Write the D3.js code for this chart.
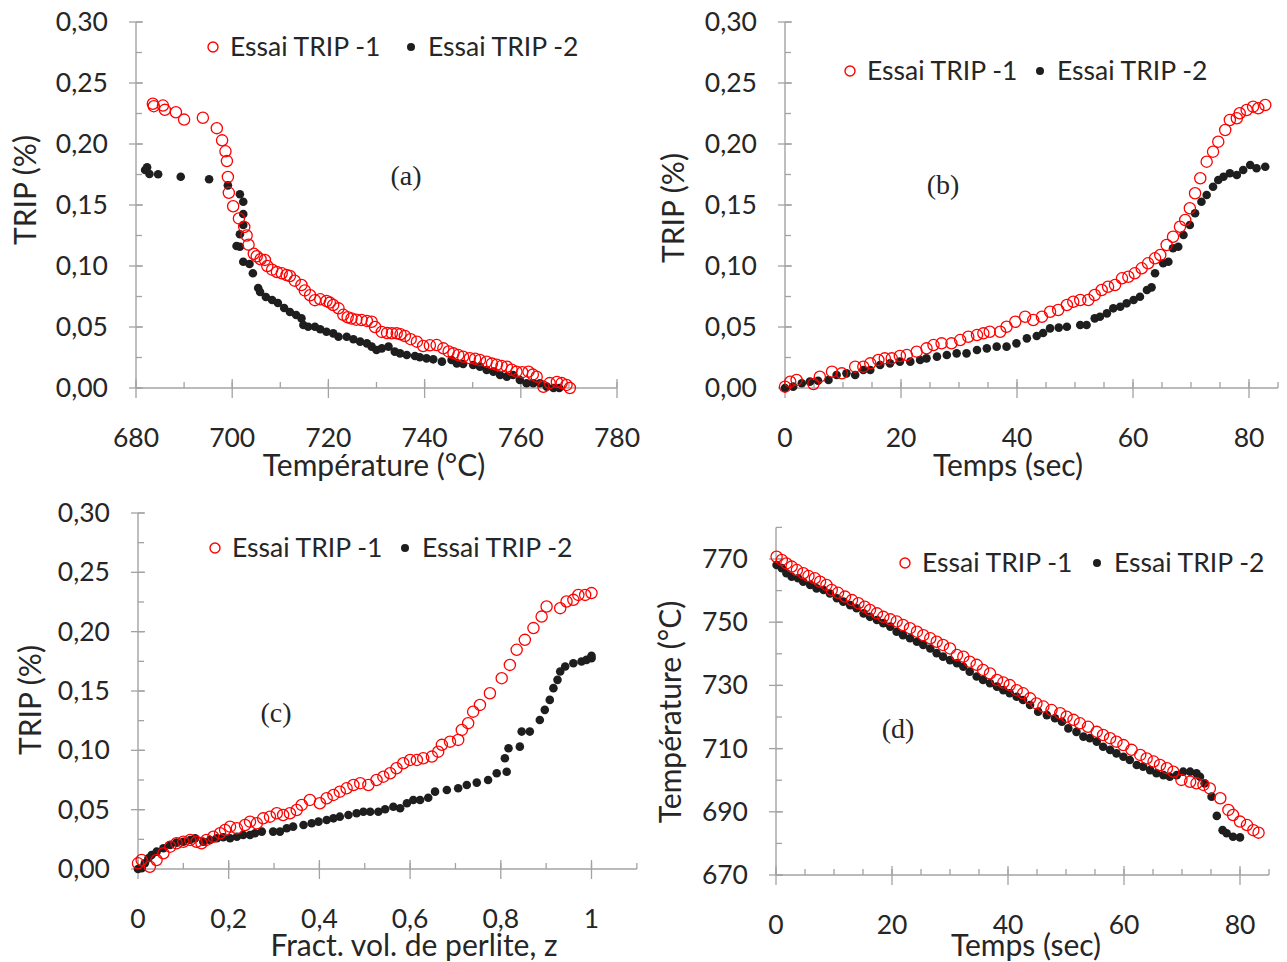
<!DOCTYPE html>
<html><head><meta charset="utf-8">
<script src="https://cdn.jsdelivr.net/npm/d3@7/dist/d3.min.js"></script>
<style>
body{margin:0;background:#fff}
text{font-family:Lato,"Open Sans",sans-serif;fill:#262626}
</style>
</head><body>
<svg id="chart" width="1287" height="962"></svg>
<script>
// ---------- DATA ----------
const seriesNames = ["Essai TRIP -1", "Essai TRIP -2"];

// Panel (a): TRIP (%) vs Température (°C)
const aTrip1 = [[683.5,0.233],[683.7,0.231],[685.6,0.2315],[686.0,0.228],[688.3,0.226],[690.0,0.220],[693.9,0.2215],[696.8,0.213],[697.9,0.203],[698.6,0.194],[698.9,0.186],[699.1,0.173],[699.3,0.160],[700.2,0.149],[701.4,0.139],[702.5,0.132],[703.0,0.125],[703.4,0.1175],[704.5,0.110],[705.1,0.108],[705.9,0.1055],[706.8,0.105],[707.3,0.100],[708.3,0.097],[709.3,0.095],[710.3,0.094],[711.3,0.0926],[712.0,0.0918],[713.0,0.088],[714.4,0.0844],[715.1,0.080],[716.2,0.076],[717.2,0.072],[718.3,0.0727],[719.6,0.0713],[720.3,0.070],[721.0,0.068],[722.1,0.0653],[723.1,0.060],[724.0,0.058],[724.8,0.057],[725.8,0.056],[726.9,0.0557],[728.0,0.055],[729.0,0.0543],[729.7,0.050],[731.1,0.046],[732.2,0.045],[733.2,0.0448],[734.2,0.0448],[735.0,0.044],[735.9,0.0426],[737.1,0.040],[738.4,0.038],[739.7,0.0344],[741.1,0.035],[742.5,0.0352],[743.9,0.0325],[745.0,0.030],[746.0,0.0284],[747.0,0.027],[748.0,0.0257],[749.4,0.0244],[750.5,0.024],[751.5,0.023],[752.9,0.0216],[754.0,0.020],[755.0,0.019],[756.0,0.018],[757.1,0.0175],[758.1,0.015],[759.1,0.0134],[760.3,0.013],[761.6,0.0134],[762.5,0.011],[763.3,0.0093],[764.7,0.001],[766.0,0.004],[767.5,0.005],[768.5,0.004],[769.5,0.0025],[770.2,0.0]];
const aTrip2 = [[681.9,0.1787],[682.3,0.1809],[682.8,0.1754],[684.6,0.1752],[689.3,0.1732],[695.2,0.1711],[699.1,0.1661],[701.6,0.1588],[702.3,0.1527],[702.3,0.1426],[702.3,0.1336],[701.6,0.126],[700.9,0.1164],[701.6,0.1158],[702.3,0.1035],[703.6,0.1016],[704.3,0.094],[705.4,0.082],[705.8,0.0787],[707.0,0.0746],[708.3,0.0721],[709.5,0.0697],[710.8,0.0656],[712.0,0.0623],[713.3,0.0598],[714.4,0.0571],[714.8,0.0516],[715.8,0.0502],[717.2,0.0502],[718.3,0.0481],[719.6,0.0461],[721.0,0.0448],[722.1,0.042],[723.8,0.042],[725.2,0.0399],[726.6,0.038],[728.0,0.0366],[729.0,0.0339],[730.0,0.0311],[731.1,0.0325],[732.5,0.0339],[733.8,0.0298],[734.9,0.0284],[736.3,0.027],[738.0,0.0262],[739.0,0.0252],[740.4,0.0243],[741.8,0.0235],[743.6,0.0216],[745.6,0.023],[746.7,0.0202],[748.0,0.0197],[750.1,0.0189],[751.5,0.0175],[752.9,0.0148],[754.3,0.0134],[755.7,0.0107],[757.1,0.0093],[758.4,0.0107],[759.8,0.0066],[761.2,0.0039],[762.6,0.0039],[764.0,0.0039],[765.4,0.0011],[766.8,0.0],[768.0,0.0]];

// Panel (b): TRIP (%) vs Temps (sec)
const bTrip1 = [[0,0.0011],[0.9,0.0052],[2.0,0.0066],[4.9,0.0033],[6.0,0.0093],[8.1,0.0134],[9.8,0.012],[12.1,0.0175],[13.5,0.0175],[14.7,0.0202],[16.1,0.023],[17.2,0.0243],[18.4,0.0243],[19.8,0.0262],[21.0,0.027],[22.7,0.0298],[24.4,0.0325],[25.6,0.0352],[27.0,0.0366],[28.7,0.0366],[30.2,0.0393],[31.6,0.042],[33.1,0.0434],[34.2,0.0448],[35.3,0.0461],[37.1,0.0461],[38.2,0.0502],[39.7,0.0543],[41.4,0.0584],[42.8,0.0557],[44.3,0.0584],[45.7,0.0625],[47.1,0.0639],[48.6,0.068],[49.7,0.0707],[50.9,0.0721],[52.3,0.0721],[53.4,0.0762],[54.6,0.0803],[55.7,0.083],[56.9,0.0844],[58.1,0.0899],[59.2,0.0912],[60.3,0.094],[61.5,0.0981],[62.6,0.1022],[63.8,0.1063],[64.7,0.109],[65.8,0.1172],[66.9,0.124],[68.1,0.1322],[69.0,0.1377],[69.8,0.1473],[70.7,0.1596],[71.6,0.1719],[72.7,0.1855],[73.8,0.1937],[74.7,0.2019],[75.9,0.2115],[76.7,0.2197],[77.9,0.2211],[78.4,0.2252],[79.6,0.2279],[80.7,0.2306],[81.6,0.2293],[82.8,0.232]];
const bTrip2 = [[0,0.0],[1.4,0.0011],[2.9,0.0039],[4.3,0.0052],[5.7,0.006],[7.5,0.0066],[8.9,0.0107],[10.6,0.012],[12.1,0.0107],[13.5,0.0148],[14.7,0.0148],[16.4,0.0189],[18.1,0.0202],[19.8,0.0216],[21.6,0.0216],[23.3,0.023],[24.4,0.0243],[26.2,0.0257],[27.9,0.027],[29.6,0.0284],[31.3,0.0284],[33.1,0.0311],[34.8,0.0325],[36.5,0.0339],[38.2,0.0339],[39.9,0.0366],[41.7,0.0407],[43.4,0.0426],[44.5,0.0451],[45.7,0.0489],[47.2,0.0495],[48.6,0.0502],[50.9,0.0516],[52.0,0.0516],[53.4,0.0571],[54.3,0.0584],[55.5,0.0612],[56.6,0.0653],[57.8,0.0666],[58.9,0.0694],[60.1,0.0721],[61.2,0.0748],[62.4,0.0803],[63.2,0.0825],[63.8,0.094],[65.2,0.1022],[66.1,0.1035],[66.9,0.1145],[67.8,0.1158],[68.7,0.1254],[69.8,0.1336],[70.7,0.1432],[71.8,0.1527],[72.7,0.1582],[73.8,0.165],[74.7,0.1705],[75.6,0.1732],[76.7,0.176],[77.9,0.1746],[79.0,0.1787],[80.2,0.1828],[81.3,0.1801],[82.8,0.1814]];

// Panel (c): TRIP (%) vs fraction volumique de perlite z
const cTrip1 = [[0.0,0.0048],[0.008,0.0076],[0.026,0.0019],[0.041,0.0076],[0.056,0.0132],[0.071,0.0188],[0.085,0.0217],[0.100,0.023],[0.115,0.0245],[0.129,0.023],[0.140,0.0217],[0.151,0.0245],[0.166,0.0272],[0.181,0.0301],[0.192,0.0329],[0.203,0.0357],[0.218,0.0343],[0.236,0.0371],[0.247,0.0399],[0.262,0.0385],[0.276,0.0427],[0.291,0.0441],[0.306,0.047],[0.320,0.0455],[0.335,0.047],[0.350,0.0497],[0.361,0.054],[0.379,0.0582],[0.401,0.0554],[0.416,0.0596],[0.431,0.0624],[0.445,0.0652],[0.460,0.068],[0.475,0.0708],[0.490,0.0723],[0.508,0.0708],[0.526,0.075],[0.541,0.0778],[0.556,0.0807],[0.570,0.0849],[0.585,0.0891],[0.600,0.0919],[0.615,0.0919],[0.629,0.0933],[0.648,0.0947],[0.662,0.0989],[0.670,0.1046],[0.688,0.1073],[0.706,0.1088],[0.714,0.1172],[0.728,0.1229],[0.739,0.1326],[0.754,0.1383],[0.776,0.1481],[0.802,0.1608],[0.820,0.172],[0.835,0.1847],[0.853,0.1931],[0.872,0.203],[0.890,0.2127],[0.901,0.2212],[0.931,0.2198],[0.945,0.2254],[0.960,0.2268],[0.971,0.231],[0.986,0.231],[1.000,0.2325]];
const cTrip2 = [[0.0,0.0],[0.008,0.0006],[0.015,0.0048],[0.023,0.009],[0.030,0.0118],[0.041,0.0146],[0.056,0.0175],[0.071,0.0202],[0.085,0.0222],[0.100,0.023],[0.115,0.0245],[0.126,0.0259],[0.144,0.023],[0.159,0.0245],[0.174,0.0259],[0.188,0.0267],[0.203,0.0259],[0.218,0.0272],[0.232,0.0287],[0.247,0.0287],[0.258,0.0301],[0.273,0.0315],[0.298,0.0315],[0.313,0.0315],[0.328,0.0343],[0.342,0.0357],[0.365,0.0371],[0.383,0.0385],[0.398,0.0399],[0.416,0.0413],[0.431,0.0427],[0.445,0.0441],[0.464,0.0455],[0.482,0.047],[0.497,0.0483],[0.512,0.0483],[0.530,0.0483],[0.545,0.0503],[0.563,0.0525],[0.578,0.0512],[0.593,0.0554],[0.607,0.0582],[0.622,0.0582],[0.640,0.0601],[0.655,0.0652],[0.681,0.0666],[0.706,0.068],[0.725,0.0708],[0.747,0.0728],[0.772,0.075],[0.791,0.0807],[0.813,0.082],[0.809,0.0933],[0.817,0.1018],[0.842,0.1031],[0.846,0.1158],[0.864,0.1158],[0.886,0.1256],[0.897,0.1341],[0.908,0.1425],[0.916,0.1524],[0.925,0.1594],[0.931,0.1664],[0.942,0.1706],[0.960,0.1734],[0.978,0.1748],[0.989,0.1762],[1.000,0.1777],[1.000,0.1796]];

// Panel (d): Température (°C) vs Temps (sec)
const dTemp1 = [[0.1,770.7],[1.0,769.7],[1.8,768.6],[2.7,767.6],[3.6,766.5],[4.7,765.5],[5.6,764.6],[6.7,763.9],[7.6,762.8],[8.7,761.8],[9.6,760.2],[10.7,759.3],[11.9,758.1],[13.1,757.0],[14.2,756.0],[15.3,754.9],[16.2,753.9],[17.4,752.8],[18.5,751.7],[19.7,750.9],[20.8,750.2],[21.9,749.1],[23.1,748.1],[24.3,747.0],[25.4,745.9],[26.6,744.9],[27.7,743.8],[28.8,742.8],[30.0,741.7],[31.2,739.6],[32.3,739.1],[33.4,737.5],[34.6,736.5],[35.7,734.9],[36.9,733.8],[38.1,731.7],[39.2,730.9],[40.3,730.1],[41.5,728.5],[42.6,727.5],[43.8,725.9],[44.9,724.3],[46.1,723.3],[47.5,722.2],[49.0,721.2],[50.1,720.1],[51.3,719.1],[52.4,718.0],[53.8,716.9],[55.3,715.3],[56.4,714.3],[57.6,713.3],[58.7,712.2],[59.9,711.1],[61.3,709.6],[62.8,708.0],[63.9,706.9],[65.1,705.9],[66.2,704.8],[67.4,703.8],[68.5,702.7],[69.9,700.1],[71.4,699.5],[72.5,699.0],[73.7,698.5],[74.8,697.4],[76.6,694.3],[78.0,690.6],[78.8,689.0],[80.0,686.9],[81.2,685.8],[82.3,684.2],[83.2,683.4]];
const dTemp2 = [[0.1,768.1],[1.0,767.1],[1.8,765.5],[2.7,764.4],[3.8,763.9],[4.7,762.8],[5.9,761.8],[7.0,760.7],[8.2,760.2],[9.3,759.1],[10.5,757.6],[11.6,756.5],[12.8,755.4],[13.9,754.4],[15.1,752.8],[16.2,751.7],[17.4,750.7],[18.5,749.7],[19.7,748.6],[20.8,747.0],[21.9,745.9],[23.1,744.9],[24.3,743.8],[25.4,742.8],[26.6,741.7],[27.7,740.2],[28.8,739.1],[30.0,738.0],[31.2,737.0],[32.3,735.9],[33.4,734.3],[34.6,732.8],[35.7,731.7],[36.9,730.7],[38.1,729.6],[39.2,728.5],[40.3,727.5],[41.5,726.4],[42.6,725.4],[43.8,723.8],[45.2,721.7],[46.7,720.6],[48.1,719.6],[49.3,718.5],[50.4,716.4],[51.8,715.3],[53.0,713.8],[54.1,713.3],[55.3,712.2],[56.4,710.6],[57.6,709.6],[58.7,708.5],[59.9,707.4],[61.0,706.4],[62.2,704.8],[63.3,704.3],[64.5,703.2],[65.6,702.2],[66.8,701.6],[67.9,701.1],[69.1,701.6],[70.2,702.7],[71.4,702.7],[72.5,702.2],[73.1,701.1],[73.9,699.0],[75.1,694.8],[76.0,688.7],[77.0,684.2],[77.7,683.2],[78.8,682.1],[80.0,681.9]];

// Tick values
const tripTicks = [0,0.05,0.10,0.15,0.20,0.25,0.30];
const tempXTicks = [680,700,720,740,760,780];
const timeTicks = [0,20,40,60,80];
const zTicks = [0,0.2,0.4,0.6,0.8,1];
const tempYTicks = [670,690,710,730,750,770];

// ---------- LAYOUT ----------
const panels = [
  {id:"a", data:[aTrip1,aTrip2], xDom:[680,780], xRange:[136,617], yDom:[0,0.30], yRange:[388,22],
   xMajor:tempXTicks, xMinorStep:10, yMajor:tripTicks, yMinorStep:0.025,
   xFmt:d=>d3.format("d")(d), yFmt:d=>d3.format(".2f")(d).replace(".",","),
   xTitle:"Température (°C)", xTitlePos:[374,476], yTitle:"TRIP (%)", yTitlePos:[36,190],
   tag:"(a)", tagPos:[406,185], legend:{c1:[213,47], c2:[411,47]}},
  {id:"b", data:[bTrip1,bTrip2], xDom:[0,85], xRange:[785,1278], yDom:[0,0.30], yRange:[388,22],
   xMajor:timeTicks, xMinorStep:5, yMajor:tripTicks, yMinorStep:0.025,
   xFmt:d=>d3.format("d")(d), yFmt:d=>d3.format(".2f")(d).replace(".",","),
   xTitle:"Temps (sec)", xTitlePos:[1008,476], yTitle:"TRIP (%)", yTitlePos:[684,208],
   tag:"(b)", tagPos:[943,194], legend:{c1:[850,71], c2:[1040,71]}},
  {id:"c", data:[cTrip1,cTrip2], xDom:[0,1.1], xRange:[138,636.85], yDom:[0,0.30], yRange:[869,513],
   xMajor:zTicks, xMinorStep:0.1, yMajor:tripTicks, yMinorStep:0.025,
   xFmt:d=>String(d).replace(".",","), yFmt:d=>d3.format(".2f")(d).replace(".",","),
   xTitle:"Fract. vol. de perlite, z", xTitlePos:[414,956], yTitle:"TRIP (%)", yTitlePos:[41,700],
   tag:"(c)", tagPos:[276,722], legend:{c1:[215,548], c2:[405,548]}},
  {id:"d", data:[dTemp1,dTemp2], xDom:[0,85], xRange:[776,1269], yDom:[670,780], yRange:[875,527.4],
   xMajor:timeTicks, xMinorStep:5, yMajor:tempYTicks, yMinorStep:10,
   xFmt:d=>d3.format("d")(d), yFmt:d=>d3.format("d")(d),
   xTitle:"Temps (sec)", xTitlePos:[1026,956], yTitle:"Température (°C)", yTitlePos:[681,712],
   tag:"(d)", tagPos:[898,738], legend:{c1:[905,563], c2:[1097,563]}}
];

const svg = d3.select("#chart");
const axisColor = "#a3a3a3";
const red = "#ff0000", dark = "#1e1e1e";
const tickFont = 26.5, legendFont = 26.5, titleFont = 30;

panels.forEach(p => {
  const g = svg.append("g");
  const x = d3.scaleLinear().domain(p.xDom).range(p.xRange);
  const y = d3.scaleLinear().domain(p.yDom).range(p.yRange);
  const x0 = x(p.xDom[0]), y0 = y(p.yDom[0]);

  // minor ticks
  const xMinor = d3.range(p.xDom[0], p.xDom[1] + p.xMinorStep/2, p.xMinorStep);
  const yMinor = d3.range(p.yDom[0], p.yDom[1] + p.yMinorStep/2, p.yMinorStep);
  g.selectAll(".xmin").data(xMinor).join("line")
    .attr("x1", d=>x(d)).attr("x2", d=>x(d)).attr("y1", y0).attr("y2", y0-6)
    .attr("stroke", axisColor).attr("stroke-width", 1.3);
  g.selectAll(".ymin").data(yMinor).join("line")
    .attr("y1", d=>y(d)).attr("y2", d=>y(d)).attr("x1", x0).attr("x2", x0+6)
    .attr("stroke", axisColor).attr("stroke-width", 1.3);
  // major ticks (crossing)
  g.selectAll(".xmaj").data(p.xMajor).join("line")
    .attr("x1", d=>x(d)).attr("x2", d=>x(d)).attr("y1", y0-9).attr("y2", y0+10)
    .attr("stroke", axisColor).attr("stroke-width", 1.3);
  g.selectAll(".ymaj").data(p.yMajor).join("line")
    .attr("y1", d=>y(d)).attr("y2", d=>y(d)).attr("x1", x0-7).attr("x2", x0+7)
    .attr("stroke", axisColor).attr("stroke-width", 1.3);
  // axis lines
  g.append("line").attr("x1", x0).attr("x2", x(p.xDom[1])).attr("y1", y0).attr("y2", y0)
    .attr("stroke", axisColor).attr("stroke-width", 1.4);
  g.append("line").attr("x1", x0).attr("x2", x0).attr("y1", y0).attr("y2", y(p.yDom[1]))
    .attr("stroke", axisColor).attr("stroke-width", 1.4);

  // tick labels
  g.selectAll(".xl").data(p.xMajor).join("text")
    .attr("x", d=>x(d)).attr("y", y0+59).attr("text-anchor","middle")
    .attr("font-size", tickFont).text(p.xFmt);
  g.selectAll(".yl").data(p.yMajor).join("text")
    .attr("x", x0-28).attr("y", d=>y(d)+9).attr("text-anchor","end")
    .attr("font-size", tickFont).text(p.yFmt);

  // titles
  g.append("text").attr("x", p.xTitlePos[0]).attr("y", p.xTitlePos[1]).attr("text-anchor","middle")
    .attr("font-size", titleFont).text(p.xTitle);
  g.append("text").attr("transform", `translate(${p.yTitlePos[0]},${p.yTitlePos[1]}) rotate(-90)`)
    .attr("text-anchor","middle").attr("font-size", titleFont).text(p.yTitle);
  g.append("text").attr("x", p.tagPos[0]).attr("y", p.tagPos[1]).attr("text-anchor","middle")
    .attr("font-size", 28)
    .style("font-family","'Liberation Serif',serif").text(p.tag);

  // data: black dots, then red open circles on top
  g.selectAll(".s2").data(p.data[1]).join("circle")
    .attr("cx", d=>x(d[0])).attr("cy", d=>y(d[1])).attr("r", 4.3).attr("fill", dark);
  g.selectAll(".s1").data(p.data[0]).join("circle")
    .attr("cx", d=>x(d[0])).attr("cy", d=>y(d[1])).attr("r", 5.6)
    .attr("fill", "none").attr("stroke", red).attr("stroke-width", 1.3);

  // legend
  const L = p.legend;
  g.append("circle").attr("cx", L.c1[0]).attr("cy", L.c1[1]).attr("r", 5)
    .attr("fill","none").attr("stroke", red).attr("stroke-width", 1.4);
  g.append("text").attr("x", L.c1[0]+17).attr("y", L.c1[1]+9).attr("font-size", legendFont).text(seriesNames[0]);
  g.append("circle").attr("cx", L.c2[0]).attr("cy", L.c2[1]).attr("r", 4).attr("fill", dark);
  g.append("text").attr("x", L.c2[0]+17).attr("y", L.c2[1]+9).attr("font-size", legendFont).text(seriesNames[1]);
});
</script>
</body></html>
